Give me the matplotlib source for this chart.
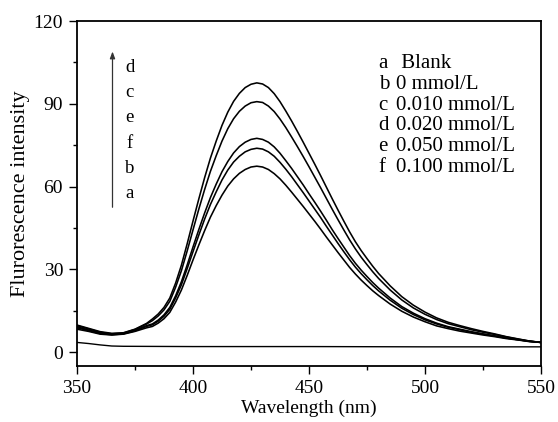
import numpy as np
import matplotlib
matplotlib.use("Agg")
from matplotlib import pyplot as plt
from matplotlib.ticker import MultipleLocator

plt.rcParams['font.family'] = ['Liberation Serif', 'DejaVu Serif']

# wavelength grid (nm), finer where the peak changes fast
wl = [350, 355, 360, 365, 370, 375, 380, 382.5, 385, 387.5, 390, 392.5, 395, 397.5,
      400, 402.5, 405, 407.5, 410, 412.5, 415, 417.5, 420, 422.5, 425, 427.5, 430,
      432.5, 435, 437.5, 440, 442.5, 445, 447.5, 450, 452.5, 455, 457.5, 460, 462.5,
      465, 467.5, 470, 472.5, 475, 477.5, 480, 485, 490, 495, 500, 505, 510, 515,
      520, 525, 530, 535, 540, 545, 550]

# blank (a) read on its own coarser grid
wl_a = [350, 355, 360, 365, 370, 400, 450, 500, 550]
curve_a = [3.5, 3.1, 2.6, 2.2, 2.1, 2.0, 2.0, 1.9, 1.9]

curve_b = [8.3, 7.5, 6.5, 6.2, 6.5, 7.5, 8.8, 9.3, 10.5, 12.1, 14.4, 18.1, 22.5, 27.8,
           33.4, 38.8, 44.0, 48.9, 53.1, 56.9, 60.2, 62.8, 64.8, 66.2, 67.1, 67.4, 67.1,
           66.2, 64.7, 62.8, 60.5, 58.0, 55.4, 52.8, 50.1, 47.4, 44.6, 41.7, 38.9, 36.1,
           33.4, 30.7, 28.3, 26.1, 24.1, 22.2, 20.5, 17.4, 14.8, 12.7, 11.0, 9.5, 8.5, 7.6,
           6.9, 6.2, 5.6, 4.9, 4.4, 3.8, 3.5]
curve_c = [9.6, 8.4, 7.2, 6.6, 6.9, 8.2, 10.2, 11.4, 13.1, 15.3, 18.4, 23.5, 29.5, 36.7,
           44.3, 51.8, 58.9, 65.5, 71.2, 76.5, 81.0, 84.6, 87.3, 89.2, 90.4, 90.8, 90.5,
           89.2, 87.2, 84.5, 81.4, 78.0, 74.5, 70.9, 67.2, 63.4, 59.6, 55.7, 51.8, 48.0,
           44.3, 40.7, 37.4, 34.4, 31.7, 29.1, 26.7, 22.5, 18.9, 16.0, 13.7, 11.8, 10.3, 9.2,
           8.1, 7.2, 6.4, 5.5, 4.7, 4.0, 3.5]
curve_d = [9.8, 8.6, 7.4, 6.8, 7.0, 8.3, 10.4, 12.0, 13.8, 16.2, 19.6, 25.0, 31.5, 39.3,
           47.5, 55.5, 63.2, 70.3, 76.5, 82.2, 87.0, 90.9, 93.8, 95.9, 97.1, 97.6, 97.2,
           95.9, 93.7, 90.8, 87.4, 83.8, 80.0, 76.1, 72.1, 68.1, 64.0, 59.8, 55.6, 51.5,
           47.5, 43.6, 40.0, 36.8, 33.9, 31.1, 28.5, 24.0, 20.1, 17.0, 14.5, 12.4, 10.8, 9.6,
           8.5, 7.5, 6.6, 5.6, 4.8, 4.0, 3.5]
curve_e = [9.2, 8.0, 6.9, 6.4, 6.7, 7.9, 9.6, 10.2, 11.6, 13.5, 16.2, 20.4, 25.5, 31.6,
           38.1, 44.4, 50.4, 56.0, 60.9, 65.4, 69.1, 72.2, 74.5, 76.1, 77.1, 77.5, 77.1,
           76.1, 74.4, 72.1, 69.4, 66.6, 63.6, 60.6, 57.4, 54.3, 51.1, 47.8, 44.4, 41.2,
           38.1, 35.0, 32.2, 29.7, 27.4, 25.2, 23.2, 19.6, 16.5, 14.1, 12.1, 10.5, 9.2, 8.3,
           7.4, 6.6, 5.9, 5.1, 4.5, 3.9, 3.5]
curve_f = [8.8, 7.8, 6.7, 6.3, 6.6, 7.7, 9.3, 9.9, 11.2, 13.0, 15.5, 19.6, 24.4, 30.3,
           36.4, 42.4, 48.2, 53.5, 58.1, 62.4, 66.0, 68.9, 71.0, 72.6, 73.5, 73.9, 73.6,
           72.6, 71.0, 68.8, 66.3, 63.6, 60.7, 57.8, 54.8, 51.8, 48.8, 45.6, 42.5, 39.4,
           36.4, 33.5, 30.8, 28.4, 26.2, 24.1, 22.2, 18.8, 15.9, 13.6, 11.7, 10.2, 9.0, 8.1,
           7.2, 6.5, 5.8, 5.1, 4.5, 3.9, 3.5]

legend_keys = ['a', 'b', 'c', 'd', 'e', 'f']
legend_values = [' Blank', '0 mmol/L', '0.010 mmol/L', '0.020 mmol/L',
                 '0.050 mmol/L', '0.100 mmol/L']
arrow_order = ['d', 'c', 'e', 'f', 'b', 'a']

fig = plt.figure(figsize=(5.58, 4.22), dpi=100)
ax = fig.add_axes([0.138, 0.133, 0.8315, 0.817])

ax.plot(wl_a, curve_a, color='black', lw=1.0)
for c in [curve_b, curve_c, curve_d, curve_e, curve_f]:
    ax.plot(wl, c, color='black', lw=1.15)

ax.set_xlim(350, 550)
ax.set_ylim(-5, 120)
ax.xaxis.set_major_locator(MultipleLocator(50))
ax.xaxis.set_minor_locator(MultipleLocator(25))
ax.yaxis.set_major_locator(MultipleLocator(30))
ax.yaxis.set_minor_locator(MultipleLocator(15))
ax.tick_params(which='both', direction='out', top=False, right=False,
               labelsize=14, width=1.0, pad=4.5)
ax.tick_params(which='major', length=5.5)
ax.tick_params(which='minor', length=3)
for s in ax.spines.values():
    s.set_linewidth(1.3)

ax.set_xlabel('Wavelength (nm)', fontsize=14, labelpad=2)
ax.set_ylabel('Flurorescence intensity', fontsize=16, labelpad=2.5)

# legend text block: letter column, then value column
for i in range(len(legend_keys)):
    y = 0.863 - i * 0.060
    ax.text(0.650, y, legend_keys[i], transform=ax.transAxes, fontsize=15, va='baseline')
    ax.text(0.688, y, legend_values[i], transform=ax.transAxes, fontsize=15, va='baseline')

# arrow with letters
ax.annotate('', xy=(365.3, 110), xytext=(365.3, 51.5),
            arrowprops=dict(arrowstyle='-|>,head_width=0.15,head_length=0.4',
                            color='#333333', lw=0.9))
for i in range(len(arrow_order)):
    ax.text(372.8, 101.6 - i * 9.18, arrow_order[i], fontsize=13.5,
            ha='center', va='baseline')

fig.savefig('out.png', dpi=100)
